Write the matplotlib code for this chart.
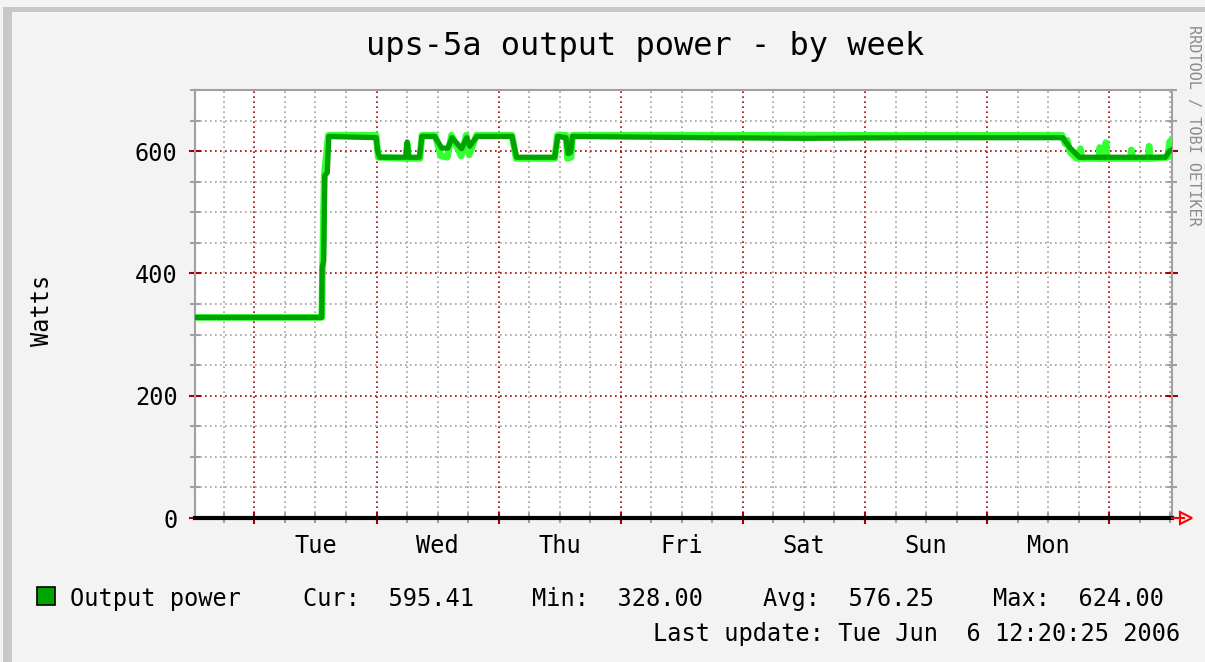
import matplotlib.pyplot as plt
from matplotlib.patches import Rectangle
import numpy as np

# hours since start of graph (start = Mon 12:20, 8 days shown)
avg_hours = [0, 24.9, 25.0, 25.3, 25.5, 26.0, 26.3, 35.6, 35.9, 36.3, 41.4, 41.7,
             42.0, 44.1, 44.6, 47.1, 48.5, 49.7, 50.5, 52.4, 53.4, 54.0, 55.4,
             62.3, 63.2, 70.7, 71.3, 72.9, 73.3, 73.8, 74.2, 100.0, 120.0, 140.0,
             170.5, 172.0, 173.8, 190.7, 191.5, 191.9]
avg_watts = [328, 328, 410, 420, 560, 565, 624, 622, 600, 590, 590, 615,
             590, 590, 624, 624, 605, 605, 622, 604, 622, 608, 624,
             624, 590, 590, 624, 622, 596, 598, 624, 622, 621, 622,
             622, 605, 590, 590, 600, 602]

spread_hours = [0, 24.9, 25.1, 25.4, 26.2, 35.6, 36.0, 41.5, 41.7, 42.0, 44.2,
                44.6, 47.2, 48.3, 49.6, 50.4, 52.3, 53.3, 53.9, 55.3, 62.3, 63.1,
                70.7, 71.2, 72.9, 73.2, 73.9, 74.2, 170.4, 171.0, 171.4, 172.0,
                173.3, 174.0, 174.3, 177.6, 177.8, 178.0, 178.8, 179.0, 179.3,
                183.8, 184.0, 184.3, 187.3, 187.5, 187.7, 191.2, 191.5, 191.9]
spread_watts = [328, 328, 430, 560, 626, 626, 590, 588, 612, 588, 588,
                626, 626, 592, 590, 626, 592, 626, 594, 626, 626, 588,
                588, 626, 626, 588, 590, 626, 626, 612, 618, 598,
                588, 604, 588, 588, 606, 588, 588, 614, 588,
                588, 602, 588, 588, 608, 588, 590, 615, 618]

days = ['Tue', 'Wed', 'Thu', 'Fri', 'Sat', 'Sun', 'Mon']
first_midnight = 11.67
legend_stats = ['Cur:  595.41', 'Min:  328.00', 'Avg:  576.25', 'Max:  624.00']

MONO = 'DejaVu Sans Mono'
RED = '#a80000'
GRAY = '#a0a0a0'

fig = plt.figure(figsize=(12.05, 6.62), dpi=100, facecolor='#f3f3f3')
W, H = 1205, 662

# canvas border (top / left bevel)
fig.patches.append(Rectangle((3 / W, 0), 9 / W, 1 - 7 / H, transform=fig.transFigure,
                             facecolor='#c8c8c8', edgecolor='none', zorder=0))
fig.patches.append(Rectangle((3 / W, 1 - 12 / H), 1, 5 / H, transform=fig.transFigure,
                             facecolor='#c8c8c8', edgecolor='none', zorder=0))

ax = fig.add_axes([195 / W, 1 - 518 / H, 977 / W, 428 / H])
ax.set_facecolor('white')
ax.set_xlim(0, 192)
ax.set_ylim(0, 700)

midnights = [first_midnight + 24 * i for i in range(8)]
sixes = np.arange(first_midnight - 6, 192, 6)
ax.set_xticks(midnights)
ax.set_xticks(sixes, minor=True)
ax.set_yticks([0, 200, 400, 600])
ax.set_yticks(np.arange(0, 701, 50), minor=True)
ax.set_xticklabels([])

ax.grid(which='minor', color=GRAY, linestyle=(0, (1, 2)), linewidth=1.2, zorder=1)
ax.grid(which='major', color=RED, linestyle=(0, (1, 2)), linewidth=1.2, zorder=1)

ax.tick_params(axis='y', which='major', direction='inout', length=9, width=1.5,
               color=RED, labelsize=17, pad=8)
ax.tick_params(axis='y', which='minor', direction='inout', length=7, width=1.5, color=GRAY)
ax.tick_params(axis='x', which='major', direction='inout', length=9, width=1.5, color=RED)
ax.tick_params(axis='x', which='minor', direction='inout', length=7, width=1.5, color=GRAY)
ax.tick_params(right=True, which='both')
for lab in ax.get_yticklabels():
    lab.set_fontfamily(MONO)

for side in ['left', 'right', 'top']:
    ax.spines[side].set_color('#a0a0a0')
    ax.spines[side].set_linewidth(1.5)
ax.spines['bottom'].set_visible(False)

for i, d in enumerate(days):
    ax.text(midnights[i] + 12, -0.065, d, transform=ax.get_xaxis_transform(),
            ha='center', va='center', fontsize=17, family=MONO)

# data
ax.plot(spread_hours, spread_watts, color='#33ff33', linewidth=4.8, zorder=3,
        solid_joinstyle='round')
ax.plot(avg_hours, avg_watts, color='#00a400', linewidth=3.8, zorder=4,
        solid_joinstyle='round')

# zero line and arrow
ax.axhline(0, color='black', linewidth=3, zorder=5, clip_on=False)
ax.plot([1.0, 1.012], [0, 0], color='red', linewidth=1.5,
        transform=ax.get_yaxis_transform(), clip_on=False, zorder=6)
ax.plot([1.014], [0], marker='>', markersize=9, markerfacecolor='none',
        markeredgecolor='red', markeredgewidth=1.5,
        transform=ax.get_yaxis_transform(), clip_on=False, zorder=6)

# texts
fig.text(645 / W, 1 - 47 / H, 'ups-5a output power - by week', ha='center', va='center',
         fontsize=23, family=MONO)
fig.text(42 / W, 1 - 310 / H, 'Watts', rotation=90, ha='center', va='center',
         fontsize=17, family=MONO)
fig.text(1193 / W, 1 - 125 / H, 'RRDTOOL / TOBI OETIKER', rotation=-90, ha='center',
         va='center', fontsize=11, family=MONO, color='#8c8c8c')

fig.patches.append(Rectangle((37 / W, 1 - 605 / H), 18 / W, 18 / H, transform=fig.transFigure,
                             facecolor='#00a400', edgecolor='black', linewidth=1.2))
fig.text(70 / W, 1 - 599 / H, 'Output power', ha='left', va='center', fontsize=17, family=MONO)
for x, s in zip([303, 532, 763, 993], legend_stats):
    fig.text(x / W, 1 - 599 / H, s, ha='left', va='center', fontsize=17, family=MONO)
fig.text(1180 / W, 1 - 634 / H, 'Last update: Tue Jun  6 12:20:25 2006', ha='right',
         va='center', fontsize=17, family=MONO)

fig.savefig('out.png', dpi=100, facecolor=fig.get_facecolor())
